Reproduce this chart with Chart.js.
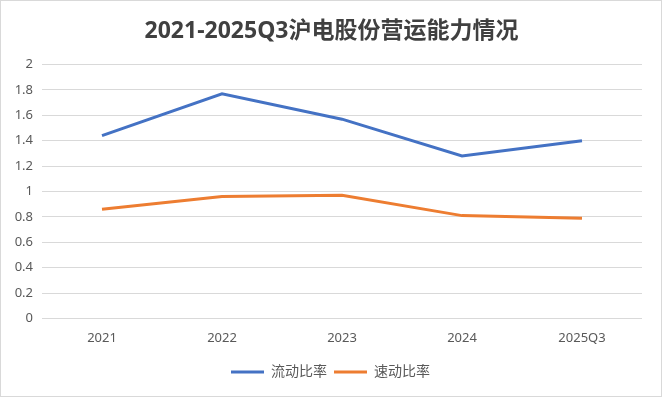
<!DOCTYPE html>
<html>
<head>
<meta charset="utf-8">
<script src="https://cdn.jsdelivr.net/npm/chart.js@4"></script>
<style>
  body { margin: 0; background: #fff; }
  #wrap { width: 660px; height: 395px; border: 1px solid #d9d9d9; }
</style>
</head>
<body>
<div id="wrap"><canvas id="opChart" width="660" height="395"></canvas></div>
<script>
const years = ['2021', '2022', '2023', '2024', '2025Q3'];
const currentRatio = [1.44, 1.77, 1.57, 1.28, 1.40];
const quickRatio = [0.86, 0.96, 0.97, 0.81, 0.79];
const yTicks = [0, 0.2, 0.4, 0.6, 0.8, 1, 1.2, 1.4, 1.6, 1.8, 2];

const fontFamily = '"Noto Sans", "Noto Sans CJK SC", sans-serif';

const ctx = document.getElementById("opChart").getContext("2d");

// nudge title and legend so they sit centred like the original, not over canvas minus right padding
const boxShift = {
  id: 'boxShift',
  afterLayout(chart) {
    chart.legend.left += 9;
    chart.legend.right += 9;
    chart.titleBlock.left += 10;
    chart.titleBlock.right += 10;
  }
};

const chart = new Chart(ctx, {
  type: 'line',
  data: {
    labels: years,
    datasets: [
      {
        label: '流动比率',
        data: currentRatio,
        borderColor: '#4472c4',
        backgroundColor: '#4472c4',
        borderWidth: 3,
        pointRadius: 0,
        tension: 0,
      },
      {
        label: '速动比率',
        data: quickRatio,
        borderColor: '#ed7d31',
        backgroundColor: '#ed7d31',
        borderWidth: 3,
        pointRadius: 0,
        tension: 0,
      },
    ]
  },
  options: {
    responsive: false,
    animation: false,
    layout: { padding: { left: 0, right: 19, top: 0, bottom: 7 } },
    plugins: {
      title: {
        display: true,
        text: '2021-2025Q3沪电股份营运能力情况',
        color: '#404040',
        font: { family: fontFamily, size: 23, weight: 'bold' },
        padding: { top: 17, bottom: 19 },
      },
      legend: {
        position: 'bottom',
        labels: {
          usePointStyle: true,
          pointStyle: 'line',
          pointStyleWidth: 33,
          color: '#595959',
          padding: 7,
          font: { family: fontFamily, size: 14 },
        }
      },
      tooltip: { enabled: false },
    },
    scales: {
      y: {
        min: 0,
        max: 2,
        afterBuildTicks: (scale) => {
          scale.ticks = yTicks.map(v => ({ value: v }));
        },
        afterFit: (scale) => { scale.width = 41; },
        border: { display: false },
        grid: { color: '#d9d9d9', drawTicks: false },
        ticks: {
          padding: 9,
          color: '#595959',
          font: { family: fontFamily, size: 13 },
          callback: (v) => String(Math.round(v * 10) / 10),
        }
      },
      x: {
        offset: true,
        border: { display: false },
        grid: { display: false, drawTicks: false },
        ticks: {
          padding: 12,
          color: '#595959',
          font: { family: fontFamily, size: 13 },
        }
      }
    }
  },
  plugins: [boxShift]
});
</script>
</body>
</html>
